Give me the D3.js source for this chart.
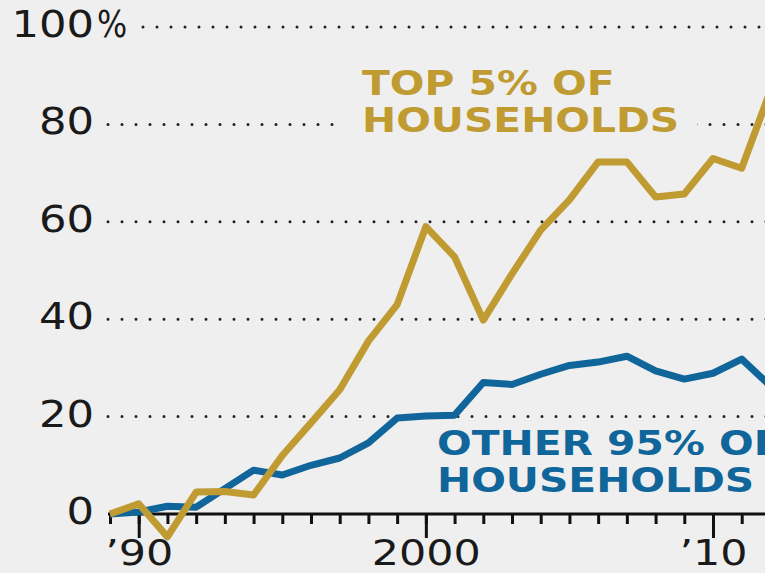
<!DOCTYPE html>
<html>
<head>
<meta charset="utf-8">
<script src="https://cdn.jsdelivr.net/npm/d3@7"></script>
<style>
  html, body { margin: 0; padding: 0; background: #efefef; overflow: hidden; }
  svg { display: block; }
</style>
</head>
<body>
<script>

var years = [1989, 1990, 1991, 1992, 1993, 1994, 1995, 1996, 1997, 1998, 1999, 2000,
             2001, 2002, 2003, 2004, 2005, 2006, 2007, 2008, 2009, 2010, 2011, 2012];

// percent change, top 5% of households
var top5 = [0, 2.1, -4.7, 4.5, 4.6, 3.9, 12, 18.7, 25.5, 35.5, 43, 59,
            52.8, 39.8, 49.3, 58.3, 64.5, 72.3, 72.3, 65.1, 65.7, 73, 71, 87];

// percent change, other 95% of households
var other95 = [0, 0.4, 1.6, 1.4, 5.2, 9, 8, 10, 11.5, 14.6, 19.7, 20.1,
               20.3, 27, 26.6, 28.7, 30.5, 31.2, 32.4, 29.4, 27.7, 28.9, 31.8, 26.3];

var yTicks = [0, 20, 40, 60, 80, 100];
var majorYears = [1990, 2000, 2010];
var majorLabels = ["\u201990", "2000", "\u201910"];

var width = 765, height = 573;
var gold = "#bf9b31", blue = "#10669a";

var xScale = d3.scaleLinear().domain([1989, 2010]).range([110, 713]);
var yScale = d3.scaleLinear().domain([0, 100]).range([514, 27]);

var svg = d3.select("body").append("svg")
    .attr("width", width)
    .attr("height", height);

svg.append("rect")
    .attr("width", width)
    .attr("height", height)
    .attr("fill", "#efefef");

// dotted gridlines
svg.append("g").selectAll("line")
    .data(yTicks.filter(function(d) { return d > 0; }))
  .join("line")
    .attr("x1", function(d) { return d == 100 ? 143 : 108; })
    .attr("x2", width + 10)
    .attr("y1", function(d) { return yScale(d); })
    .attr("y2", function(d) { return yScale(d); })
    .attr("stroke", "#222")
    .attr("stroke-width", 3)
    .attr("stroke-linecap", "round")
    .attr("stroke-dasharray", "0 14");

// y labels
var yLab = svg.append("g").selectAll("g")
    .data(yTicks)
  .join("g")
    .attr("transform", function(d) { return "translate(94," + (yScale(d) + 10) + ")"; });

yLab.append("text")
    .attr("transform", "scale(1.17,1)")
    .attr("text-anchor", "end")
    .attr("font-family", "DejaVu Sans")
    .attr("font-size", 37)
    .attr("fill", "#1a1a1a")
    .text(function(d) { return d; });

yLab.filter(function(d) { return d == 100; })
  .append("text")
    .attr("transform", "translate(3,0) scale(0.86,1)")
    .attr("font-family", "DejaVu Sans")
    .attr("font-size", 37)
    .attr("fill", "#1a1a1a")
    .text("%");

// x axis: minor and major ticks
var minorAxis = d3.axisBottom(xScale)
    .tickValues(years)
    .tickSize(10)
    .tickFormat("");

var majorAxis = d3.axisBottom(xScale)
    .tickValues(majorYears)
    .tickSize(24)
    .tickPadding(8)
    .tickFormat(function(d, i) { return majorLabels[i]; });

var gMinor = svg.append("g")
    .attr("transform", "translate(0," + yScale(0) + ")")
    .call(minorAxis);
gMinor.select(".domain").remove();
gMinor.selectAll(".tick line").attr("stroke", "#111").attr("stroke-width", 3);

var gMajor = svg.append("g")
    .attr("transform", "translate(0," + yScale(0) + ")")
    .call(majorAxis);
gMajor.select(".domain").remove();
gMajor.selectAll(".tick line").attr("stroke", "#111").attr("stroke-width", 3);
gMajor.selectAll(".tick text")
    .attr("font-family", "DejaVu Sans")
    .attr("font-size", 36)
    .attr("fill", "#1a1a1a")
    .attr("dy", null)
    .attr("y", 51)
    .attr("transform", "scale(1.19,1)");

svg.append("line")
    .attr("x1", 108)
    .attr("x2", width + 10)
    .attr("y1", yScale(0))
    .attr("y2", yScale(0))
    .attr("stroke", "#111")
    .attr("stroke-width", 3);

// lines
var line = d3.line()
    .x(function(d, i) { return xScale(years[i]); })
    .y(function(d) { return yScale(d); });

svg.append("path")
    .datum(other95)
    .attr("d", line)
    .attr("fill", "none")
    .attr("stroke", blue)
    .attr("stroke-width", 7)
    .attr("stroke-linejoin", "round");

svg.append("path")
    .datum(top5)
    .attr("d", line)
    .attr("fill", "none")
    .attr("stroke", gold)
    .attr("stroke-width", 7)
    .attr("stroke-linejoin", "round");

// series labels
function drawLabel(x, y, lines, color, bg) {
  var g = svg.append("g");
  var box = g.append("rect").attr("fill", "#efefef");
  var t = g.append("g").attr("transform", "translate(" + x + "," + y + ") scale(1.2,1)");
  lines.forEach(function(s, i) {
    t.append("text")
        .attr("y", i * 37)
        .attr("font-family", "DejaVu Sans")
        .attr("font-weight", "bold")
        .attr("font-size", 34)
        .attr("fill", color)
        .text(s);
  });
  if (bg) {
    var b = t.node().getBoundingClientRect();
    box.attr("x", b.left - 18).attr("y", b.top + 4)
       .attr("width", b.width + 36).attr("height", b.height - 8);
  } else {
    box.remove();
  }
}

drawLabel(362, 95, ["TOP 5% OF", "HOUSEHOLDS"], gold, true);
drawLabel(437, 455, ["OTHER 95% OF", "HOUSEHOLDS"], blue, false);

</script>
</body>
</html>
